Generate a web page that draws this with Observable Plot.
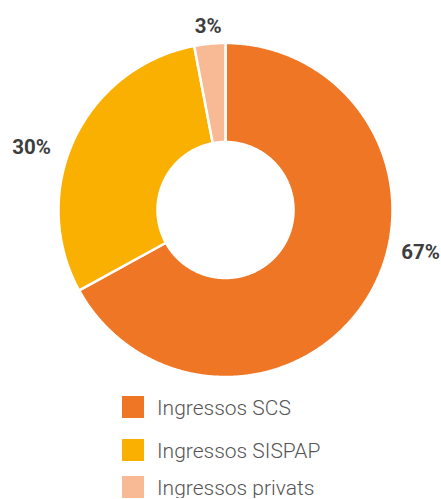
<!DOCTYPE html>
<html><head><meta charset="utf-8">
<script src="https://cdn.jsdelivr.net/npm/d3@7"></script>
<script src="https://cdn.jsdelivr.net/npm/@observablehq/plot@0.6"></script>
<style>
body{margin:0;background:#fff;font-family:Roboto,sans-serif;}
#legend{padding-left:122px;}
.row{display:flex;align-items:flex-end;height:22px;}
.row:nth-child(1){margin-top:6px;}
.row:nth-child(2){margin-top:21px;}
.row:nth-child(3){margin-top:15px;}
.sw{width:22px;height:22px;flex:none;}
.lab{margin-left:13px;font-size:21px;font-weight:300;color:#555;line-height:20px;white-space:nowrap;}
</style></head><body><div id="chart"></div><div id="legend"></div><script>
const categories = ["Ingressos SCS", "Ingressos SISPAP", "Ingressos privats"];
const values = [67, 30, 3];
const labels = ["67%", "30%", "3%"];
const colors = ["#EE7625", "#F9B000", "#F7BA94"];

// layout (styles / positions, not data)
const W = 441, H = 390, cx = 225, cy = 209.5, R = 167;
const innerRatio = 68 / 167;
const labelPlace = {"Ingressos SCS": {nudge: -18.4, r: 1.195}, "Ingressos SISPAP": {nudge: -7.3, r: 1.22}, "Ingressos privats": {nudge: 0, r: 1.107}};

const data = categories.map((c, i) => ({cat: c, value: values[i], label: labels[i]}));
const arcs = d3.pie().sort(null).value(d => d.value).startAngle(0).endAngle(2 * Math.PI)(data);

const pts = [];
for (const a of arcs) {
  const n = Math.max(2, Math.ceil((a.endAngle - a.startAngle) / (Math.PI / 360)) + 1);
  const ring = [];
  for (let k = 0; k < n; k++) {
    const t = a.startAngle + (a.endAngle - a.startAngle) * k / (n - 1);
    ring.push({cat: a.data.cat, x: Math.sin(t), y: Math.cos(t)});
  }
  for (let k = n - 1; k >= 0; k--) {
    const t = a.startAngle + (a.endAngle - a.startAngle) * k / (n - 1);
    ring.push({cat: a.data.cat, x: innerRatio * Math.sin(t), y: innerRatio * Math.cos(t)});
  }
  ring.push(ring[0]);
  pts.push(...ring);
}

const labelPts = arcs.map(a => {
  const p = labelPlace[a.data.cat];
  const m = (a.startAngle + a.endAngle) / 2 + p.nudge * Math.PI / 180;
  return {cat: a.data.cat, label: a.data.label, x: p.r * Math.sin(m), y: p.r * Math.cos(m)};
});

const chart = Plot.plot({
  width: W, height: H,
  marginTop: 0, marginBottom: 0, marginLeft: 0, marginRight: 0,
  x: {domain: [-cx / R, (W - cx) / R], axis: null},
  y: {domain: [-(H - cy) / R, cy / R], axis: null},
  color: {domain: categories, range: colors},
  marks: [
    Plot.line(pts, {x: "x", y: "y", z: "cat", fill: "cat", stroke: "white", strokeWidth: 2.5, strokeLinejoin: "miter"}),
    Plot.text(labelPts, {x: "x", y: "y", text: "label", fontSize: 20.5, fontWeight: 700, fill: "#3d3d3d", fontFamily: "Roboto"})
  ]
});
document.getElementById("chart").append(chart);

const leg = document.getElementById("legend");
categories.forEach((c, i) => {
  const row = document.createElement("div");
  row.className = "row";
  const sw = document.createElement("div");
  sw.className = "sw"; sw.style.background = colors[i];
  const lab = document.createElement("div");
  lab.className = "lab"; lab.textContent = c;
  row.append(sw, lab);
  leg.append(row);
});
</script></body></html>
